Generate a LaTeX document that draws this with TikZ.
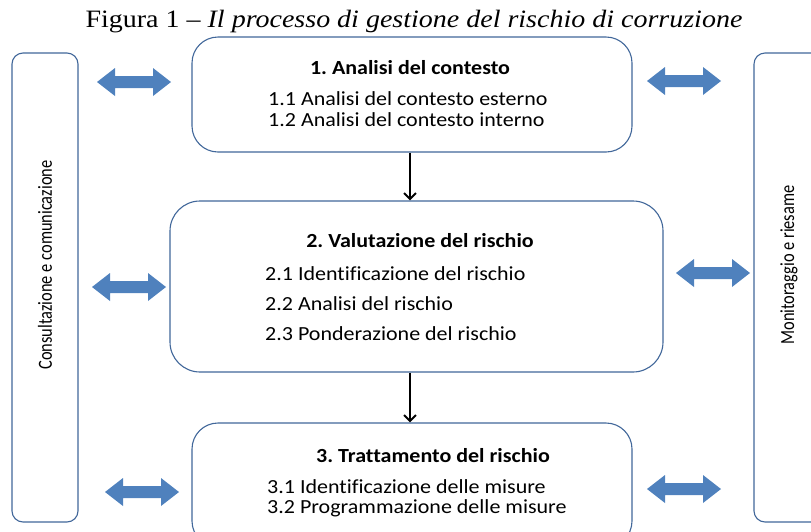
\documentclass[tikz,border=0pt]{standalone}
\usepackage{fontspec}
\setmainfont{Carlito}
\newfontfamily\boxfont[FakeStretch=1.1,Ligatures=NoCommon]{Carlito}
\newfontfamily\sidefont[FakeStretch=0.82]{Carlito}
\newfontfamily\titlefont[FakeStretch=1.12]{Liberation Serif}
\usetikzlibrary{arrows.meta}
\definecolor{boxline}{HTML}{41679A}
\definecolor{arrowblue}{HTML}{4F81BD}
\frenchspacing
\tikzset{
  x=1pt, y=-1pt,
  procbox/.style={draw=boxline, line width=1.1pt, rounded corners=26pt, fill=white},
  sidebar/.style={draw=boxline, line width=1.1pt, rounded corners=11pt, fill=white},
  headtxt/.style={font=\boxfont\fontsize{20}{24}\selectfont\bfseries, inner sep=0pt},
  itemtxt/.style={font=\boxfont\fontsize{20}{24}\selectfont, anchor=west, inner sep=0pt},
  sidetxt/.style={font=\sidefont\fontsize{20}{24}\selectfont, rotate=90, inner sep=0pt},
  flowarrow/.style={draw=black, line width=2pt, -{Straight Barb[length=6pt,width=12pt]}},
  dblarrow/.pic={\fill[arrowblue] (-37,0) -- (-19,-14) -- (-19,-6) -- (19,-6) -- (19,-14) -- (37,0) -- (19,14) -- (19,6) -- (-19,6) -- (-19,14) -- cycle;}
}
\begin{document}
\begin{tikzpicture}
\useasboundingbox (0,0) rectangle (811,531);
\clip (0,0) rectangle (811,531);
% title
\node[font=\titlefont\fontsize{25}{29}\selectfont, inner sep=0pt] (title) at (414,22)
  {Figura 1 – \textit{Il processo di gestione del rischio di corruzione}};
% side bars
\node[sidebar, minimum width=66pt, minimum height=469pt] (left) at (45,287.5) {};
\node[sidebar, minimum width=72pt, minimum height=469pt] (right) at (790,287.5) {};
\node[sidetxt] (lefttxt) at (45,265) {Consultazione e comunicazione};
\node[sidetxt] (righttxt) at (789,265) {Monitoraggio e riesame};
% process boxes
\node[procbox, minimum width=440pt, minimum height=115pt] (b1) at (412,94.5) {};
\node[procbox, rounded corners=30pt, minimum width=493pt, minimum height=171pt] (b2) at (416.5,286.5) {};
\node[procbox, minimum width=440pt, minimum height=124pt] (b3) at (412,485) {};
% box 1 text
\node[headtxt] (h1) at (410,68) {1. Analisi del contesto};
\node[itemtxt] (t11) at (268,99) {1.1 Analisi del contesto esterno};
\node[itemtxt] (t12) at (268,120) {1.2 Analisi del contesto interno};
% box 2 text
\node[headtxt] (h2) at (420,241) {2. Valutazione del rischio};
\node[itemtxt] (t21) at (265,274) {2.1 Identificazione del rischio};
\node[itemtxt] (t22) at (265,304) {2.2 Analisi del rischio};
\node[itemtxt] (t23) at (265,334) {2.3 Ponderazione del rischio};
% box 3 text
\node[headtxt] (h3) at (433,456) {3. Trattamento del rischio};
\node[itemtxt] (t31) at (267,487) {3.1 Identificazione delle misure};
\node[itemtxt] (t32) at (267,508) {3.2 Programmazione delle misure};
% flow arrows
\draw[flowarrow] ([xshift=-2pt]b1.south) -- ([xshift=-2pt]b1.south |- b2.north);
\draw[flowarrow] ([xshift=-6.5pt]b2.south) -- ([xshift=-6.5pt]b2.south |- b3.north);
% blue double arrows
\pic (a1l) at (134,82) {dblarrow};
\pic (a1r) at (684,81) {dblarrow};
\pic (a2l) at (129,287) {dblarrow};
\pic (a2r) at (713,273) {dblarrow};
\pic (a3l) at (142,492) {dblarrow};
\pic (a3r) at (684,489) {dblarrow};
\end{tikzpicture}
\end{document}
